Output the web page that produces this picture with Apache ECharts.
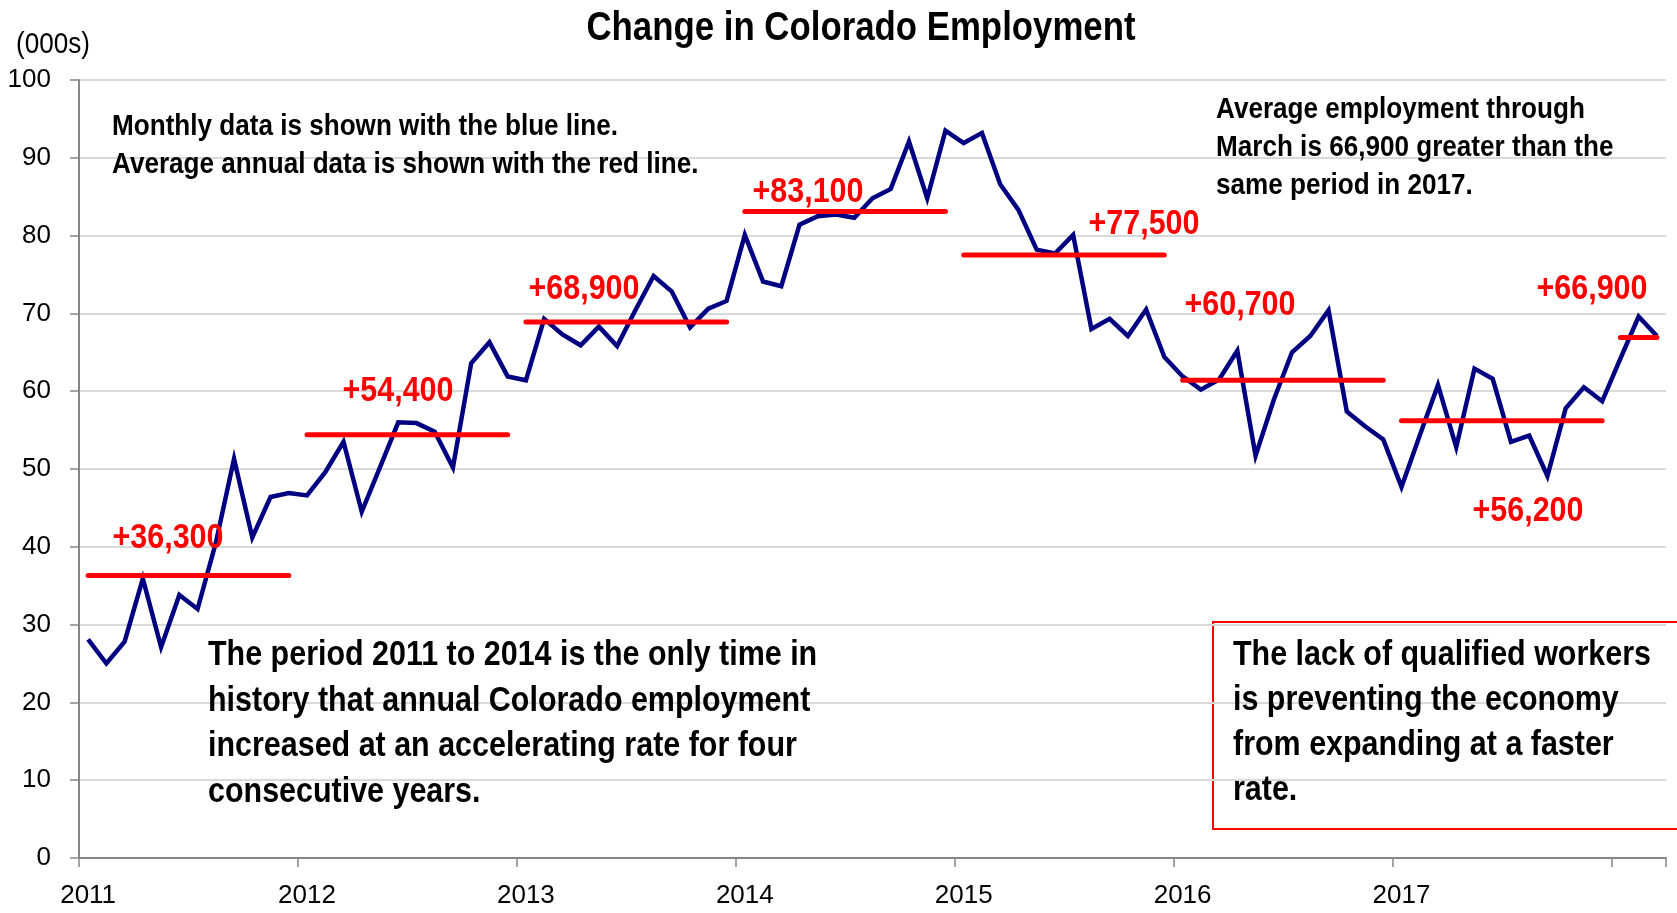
<!DOCTYPE html>
<html>
<head>
<meta charset="utf-8">
<script src="https://cdn.jsdelivr.net/npm/echarts@6/dist/echarts.min.js"></script>
<style>
html,body{margin:0;padding:0;background:#fff;}
#chart{width:1677px;height:913px;}
</style>
</head>
<body>
<div id="chart"></div>
<script>
// ---- data ----
const years = ['2011','2012','2013','2014','2015','2016','2017','2018'];
const monthsPerYear = [12,12,12,12,12,12,12,3];
const monthly2011 = [28.1,25.0,27.8,35.9,27.1,33.8,32.0,40.5,51.3,41.2,46.4,46.9];
const monthly2012 = [46.6,49.6,53.5,44.5,50.2,56.0,55.9,54.8,50.2,63.6,66.3,61.9];
const monthly2013 = [61.4,69.3,67.3,65.9,68.3,65.8,70.4,74.8,72.8,68.2,70.6,71.6];
const monthly2014 = [80.1,74.1,73.5,81.4,82.5,82.7,82.3,84.8,86.0,92.1,84.8,93.5];
const monthly2015 = [91.9,93.2,86.6,83.3,78.2,77.7,80.1,68.0,69.3,67.1,70.5,64.4];
const monthly2016 = [61.9,60.2,61.5,65.2,51.7,58.9,65.0,67.1,70.4,57.4,55.5,53.8];
const monthly2017 = [47.7,54.3,60.8,52.8,62.9,61.6,53.5,54.3,49.1,57.8,60.5,58.7];
const monthly2018 = [64.2,69.6,67.1];
const annualAvg = [36.3,54.4,68.9,83.1,77.5,61.4,56.2,66.9];
const annualLabels = ['+36,300','+54,400','+68,900','+83,100','+77,500','+60,700','+56,200','+66,900'];
const yTicks = [0,10,20,30,40,50,60,70,80,90,100];

// ---- build ----
const monthly = [].concat(monthly2011,monthly2012,monthly2013,monthly2014,monthly2015,monthly2016,monthly2017,monthly2018);
const categories = [];
const yearIdx = [];
years.forEach((y,k)=>{ for(let m=1;m<=monthsPerYear[k];m++){ categories.push(y+'-'+String(m).padStart(2,'0')); yearIdx.push(k);} });

const FONT = "'Liberation Sans',Arial,sans-serif";
const RED = '#ff0000';
const NAVY = '#000080';
const SX = 0.87; // condensed look

const series = [{
  type:'line', data: monthly, symbol:'none', z:2,
  lineStyle:{color:NAVY,width:4.5,join:'miter'}, itemStyle:{color:NAVY}
}];
years.forEach((y,k)=>{
  series.push({
    type:'line', symbol:'none', z:3,
    data: categories.map((c,i)=> yearIdx[i]===k ? annualAvg[k] : null),
    lineStyle:{color:RED,width:5,cap:'round'}, itemStyle:{color:RED}
  });
});

function txt(x,y,text,font,opts){
  opts = opts||{};
  return {type:'text', x:x, y:y, scaleX:SX, z:opts.z||5,
    style:Object.assign({text:text, fill:opts.fill||'#000', font:font, textAlign:opts.align||'left', textVerticalAlign:opts.valign||'middle'}, opts.lh?{lineHeight:opts.lh}:{})};
}

const labelPos = [[168,538],[398,391],[584,289],[808,192],[1144,224],[1240,305],[1528,511],[1592,289]];
const graphics = [];
graphics.push(txt(861,29,'Change in Colorado Employment','bold 40px '+FONT,{align:'center'}));
graphics.push(txt(16,45,'(000s)','30px '+FONT));
graphics.push(txt(112,108,'Monthly data is shown with the blue line.\nAverage annual data is shown with the red line.','bold 30px '+FONT,{valign:'top',lh:37.5}));
graphics.push(txt(1216,91,'Average employment through\nMarch is 66,900 greater than the\nsame period in 2017.','bold 30px '+FONT,{valign:'top',lh:38}));
graphics.push(txt(208,633,'The period 2011 to 2014 is the only time in\nhistory that annual Colorado employment\nincreased at an accelerating rate for four\nconsecutive years.','bold 35px '+FONT,{valign:'top',lh:45.5}));
graphics.push({type:'rect', shape:{x:1213,y:622,width:470,height:207}, style:{fill:'rgba(255,255,255,0)', stroke:RED, lineWidth:2}});
graphics.push(txt(1233,633,'The lack of qualified workers\nis preventing the economy\nfrom expanding at a faster\nrate.','bold 35px '+FONT,{valign:'top',lh:45}));
annualLabels.forEach((t,k)=>{
  graphics.push(txt(labelPos[k][0],labelPos[k][1],t,'bold 35px '+FONT,{align:'center',fill:RED,z:10}));
});

const chart = echarts.init(document.getElementById('chart'), null, {renderer:'canvas'});
chart.setOption({
  animation:false,
  backgroundColor:'#fff',
  grid:{left:79, right:11, top:80, bottom:55},
  xAxis:{
    type:'category', data:categories, boundaryGap:true,
    axisLine:{lineStyle:{color:'#868686',width:2}},
    axisTick:{show:true, length:9, lineStyle:{color:'#868686',width:1.5}, interval:(i)=> i%12===0},
    axisLabel:{interval:(i)=> i%12===0 && i<84, formatter:(v)=> v.slice(0,4), color:'#000', fontFamily:FONT, fontSize:26, margin:25},
    splitLine:{show:false}
  },
  yAxis:{
    type:'value', min:yTicks[0], max:yTicks[yTicks.length-1], interval:10,
    axisLine:{show:true, lineStyle:{color:'#868686',width:2}},
    axisTick:{show:true, length:9, lineStyle:{color:'#868686',width:1.5}},
    axisLabel:{color:'#000', fontFamily:FONT, fontSize:26, margin:28},
    splitLine:{show:true, lineStyle:{color:'#d9d9d9', width:2}}
  },
  series: series,
  graphic: graphics
});
</script>
</body>
</html>
